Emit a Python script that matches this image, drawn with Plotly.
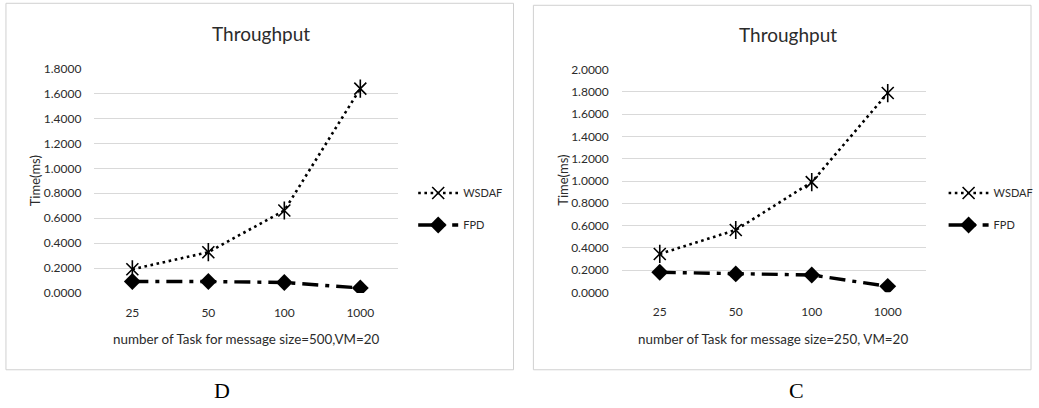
import plotly.graph_objects as go

categories = ["25", "50", "100", "1000"]
wsdaf_d = [0.19, 0.327, 0.662, 1.64]
fpd_d = [0.092, 0.092, 0.084, 0.040]
wsdaf_c = [0.345, 0.56, 0.99, 1.79]
fpd_c = [0.180, 0.166, 0.156, 0.054]
yticks_d = [0, 0.2, 0.4, 0.6, 0.8, 1.0, 1.2, 1.4, 1.6, 1.8]
yticks_c = [0, 0.2, 0.4, 0.6, 0.8, 1.0, 1.2, 1.4, 1.6, 1.8, 2.0]

W, H = 1039, 408
FONT = "Lato"
NARROW = "Liberation Sans Narrow, Arial Narrow, Lato"
TXT = "#2b2b2b"
GRID = "#d9d9d9"

def px(x):
    return x / W

def py(y):
    # compensate for the vertical scaling observed in the rendered snapshot
    ys = (y - 7.7) / 0.962
    return 1 - ys / H

fig = go.Figure()

def add_series(wsdaf, fpd, xa, ya, legend):
    fig.add_trace(go.Scatter(
        x=categories, y=wsdaf, name="WSDAF", xaxis=xa, yaxis=ya, legend=legend,
        legendgroup="w", mode="lines+markers",
        line=dict(color="black", width=2.6, dash="2.6px,3.6px"),
        marker=dict(symbol="x-thin-open", size=12, color="black", line=dict(color="black", width=1.6)),
    ))
    fig.add_trace(go.Scatter(
        x=categories, y=wsdaf, xaxis=xa, yaxis=ya, showlegend=False, hoverinfo="skip",
        legendgroup="w", mode="markers",
        marker=dict(symbol="line-ns-open", size=13, color="black", line=dict(color="black", width=1.6)),
    ))
    fig.add_trace(go.Scatter(
        x=categories, y=fpd, name="FPD", xaxis=xa, yaxis=ya, legend=legend,
        legendgroup="f", mode="lines+markers",
        line=dict(color="black", width=3.4, dash="16px,7px,4px,7px"),
        marker=dict(symbol="diamond", size=13, color="black"),
    ))

add_series(wsdaf_d, fpd_d, "x", "y", "legend")
add_series(wsdaf_c, fpd_c, "x2", "y2", "legend2")

axis_common = dict(showline=False, zeroline=False, ticks="", tickfont=dict(family=FONT, size=12, color=TXT))

legend_common = dict(xanchor="left", yanchor="top", font=dict(family=NARROW, size=11, color=TXT),
                     tracegroupgap=13, traceorder="grouped", bgcolor="rgba(0,0,0,0)", itemwidth=40)

fig.update_layout(
    width=W, height=H, margin=dict(l=0, r=0, t=0, b=0),
    paper_bgcolor="white", plot_bgcolor="white",
    font=dict(family=FONT, color=TXT),
    xaxis=dict(domain=[px(95), px(401)], anchor="y", type="category", range=[-0.5, 3.5],
               showgrid=False, ticklabelstandoff=11, **axis_common),
    yaxis=dict(domain=[py(292.3), py(68.3)], anchor="x", range=[0, 1.8],
               tickvals=yticks_d, tickformat=".4f", showgrid=True, gridcolor=GRID, gridwidth=1,
               ticklabelstandoff=12, **axis_common),
    xaxis2=dict(domain=[px(626), px(932)], anchor="y2", type="category", range=[-0.5, 3.5],
                showgrid=False, ticklabelstandoff=11, **axis_common),
    yaxis2=dict(domain=[py(291.7), py(69.3)], anchor="x2", range=[0, 2.0],
                tickvals=yticks_c, tickformat=".4f", showgrid=True, gridcolor=GRID, gridwidth=1,
                ticklabelstandoff=12, **axis_common),
    legend=dict(x=px(416), y=py(178), **legend_common),
    legend2=dict(x=px(950), y=py(178), **legend_common),
)

# chart borders
fig.add_shape(type="rect", xref="paper", yref="paper", x0=px(6), x1=px(517), y0=py(369), y1=py(3),
              line=dict(color="#d0d0d0", width=1))
fig.add_shape(type="rect", xref="paper", yref="paper", x0=px(537), x1=px(1038), y0=py(369), y1=py(5),
              line=dict(color="#d0d0d0", width=1))

ann = []
ann.append(dict(text="Throughput", x=px(263), y=py(33), font=dict(size=19, family=FONT, color=TXT)))
ann.append(dict(text="Throughput", x=px(793), y=py(34), font=dict(size=19, family=FONT, color=TXT)))
ann.append(dict(text="Time(ms)", x=px(35), y=py(180), textangle=-90, font=dict(size=13, family=FONT, color=TXT)))
ann.append(dict(text="Time(ms)", x=px(566), y=py(180), textangle=-90, font=dict(size=13, family=FONT, color=TXT)))
ann.append(dict(text="number of Task for message size=500,VM=20", x=px(248), y=py(338), font=dict(size=13.4, family=FONT, color=TXT)))
ann.append(dict(text="number of Task for message size=250, VM=20", x=px(778), y=py(338), font=dict(size=13.4, family=FONT, color=TXT)))
ann.append(dict(text="D", x=px(224), y=py(390), font=dict(size=22, family="Liberation Serif", color="black")))
ann.append(dict(text="C", x=px(802), y=py(390), font=dict(size=22, family="Liberation Serif", color="black")))
for a in ann:
    a.update(xref="paper", yref="paper", showarrow=False, xanchor="center", yanchor="middle")
fig.update_layout(annotations=ann)

post = (
    "document.documentElement.style.margin='0';"
    "document.documentElement.style.overflow='hidden';"
    "document.body.style.margin='0';document.body.style.overflow='hidden';"
    "var d=document.getElementById('{plot_id}');"
    "d.style.position='fixed';d.style.top='0px';d.style.left='0px';"
)
fig.write_html("out.html", config={"displayModeBar": False}, post_script=post)
